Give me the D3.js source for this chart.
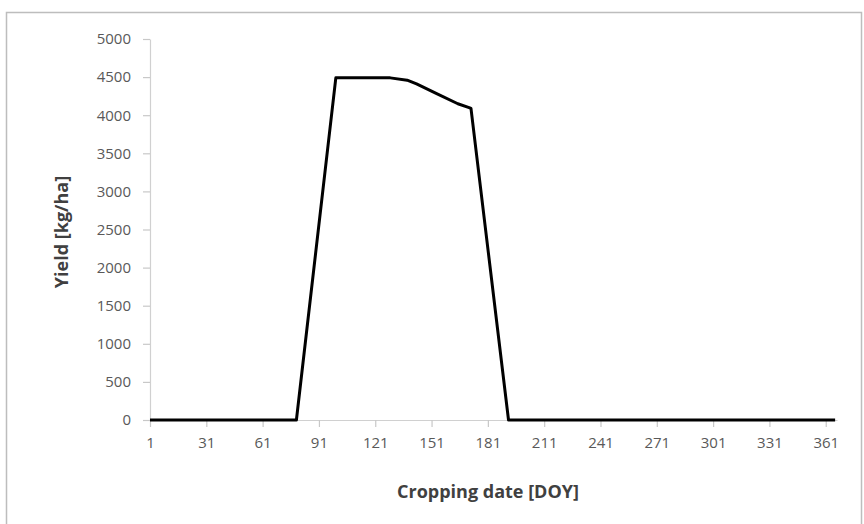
<!DOCTYPE html>
<html>
<head>
<meta charset="utf-8">
<script src="https://cdn.jsdelivr.net/npm/d3@7"></script>
<style>
  html, body { margin: 0; padding: 0; background: #fff; }
  svg { display: block; }
</style>
</head>
<body>
<svg id="chart" width="864" height="524"></svg>
<script>
// Data
const days   = [1, 79, 100, 129, 138, 143, 154, 165, 171, 172, 192, 366];
const yields = [0, 0, 4490, 4490, 4460, 4410, 4280, 4150, 4100, 4090, 0, 0];
const xTickValues = [1, 31, 61, 91, 121, 151, 181, 211, 241, 271, 301, 331, 361];
const yTickValues = [0, 500, 1000, 1500, 2000, 2500, 3000, 3500, 4000, 4500, 5000];
const xTitle = "Cropping date [DOY]";
const yTitle = "Yield [kg/ha]";

const svg = d3.select("#chart");
const font = "'Open Sans', Lato, sans-serif";

// outer frame
svg.append("rect")
  .attr("x", 6.5).attr("y", 12.5)
  .attr("width", 855).attr("height", 530)
  .attr("fill", "#fff")
  .attr("stroke", "#bdbdbd").attr("stroke-width", 1.5);

const x = d3.scaleLinear().domain([1, 367]).range([150, 837]);
const y = d3.scaleLinear().domain([0, 5000]).range([420, 39]);

// Y axis
const gy = svg.append("g").attr("transform", "translate(150,0)")
  .call(d3.axisLeft(y).tickValues(yTickValues).tickFormat(d3.format("d"))
    .tickSize(7).tickSizeOuter(0).tickPadding(12));
gy.select(".domain").attr("stroke", "#d0d0d0").attr("stroke-width", 1.2);
gy.selectAll(".tick line").attr("stroke", "#c8c8c8").attr("stroke-width", 1.2);
gy.selectAll(".tick text").attr("fill", "#595959")
  .style("font-family", font).style("font-size", "15px");

// X axis
const gx = svg.append("g").attr("transform", "translate(0,420)")
  .call(d3.axisBottom(x).tickValues(xTickValues).tickFormat(d3.format("d"))
    .tickSize(7).tickSizeOuter(0).tickPadding(10));
gx.select(".domain").attr("stroke", "#d0d0d0").attr("stroke-width", 1.2);
gx.selectAll(".tick line").attr("stroke", "#c8c8c8").attr("stroke-width", 1.2);
gx.selectAll(".tick text").attr("fill", "#595959")
  .style("font-family", font).style("font-size", "15px");

// line
const data = days.map((d, i) => ({ d, v: yields[i] }));
svg.append("path")
  .datum(data)
  .attr("fill", "none")
  .attr("stroke", "#000")
  .attr("stroke-width", 3)
  .attr("stroke-linejoin", "round")
  .attr("d", d3.line().x(p => x(p.d)).y(p => y(p.v)));

// titles
svg.append("text")
  .attr("x", 488).attr("y", 498)
  .attr("text-anchor", "middle")
  .attr("fill", "#404040")
  .style("font-family", font).style("font-size", "18px").style("font-weight", "bold")
  .text(xTitle);

svg.append("text")
  .attr("transform", "translate(68,232) rotate(-90)")
  .attr("text-anchor", "middle")
  .attr("fill", "#404040")
  .style("font-family", font).style("font-size", "18px").style("font-weight", "bold")
  .text(yTitle);
</script>
</body>
</html>
